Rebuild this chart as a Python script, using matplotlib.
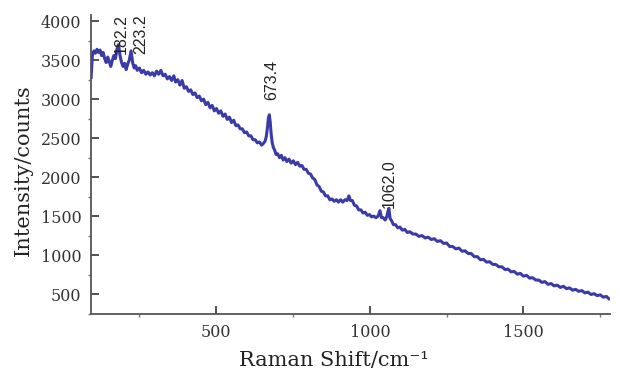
import matplotlib
matplotlib.use("Agg")
import matplotlib.pyplot as plt
from matplotlib.ticker import MultipleLocator

# Raman spectrum
shift = [93, 97, 102, 107, 112, 117, 122, 127, 132, 137, 142, 147, 152, 157, 162,
         167, 172, 177, 182, 187, 192, 197, 202, 207, 212, 217, 223, 228, 233, 238,
         243, 250, 257, 264, 271, 278, 285, 292, 299, 306, 313, 320, 327, 334, 341,
         348, 355, 362, 368, 375, 382, 389, 396, 403, 410, 417, 424, 431, 438, 445,
         452, 459, 466, 473, 480, 487, 494, 501, 508, 515, 522, 529, 536, 543, 550,
         557, 564, 571, 578, 585, 592, 599, 606, 613, 620, 627, 634, 641, 648, 654,
         659, 663, 667, 670, 673, 676, 679, 682, 686, 690, 695, 700, 706, 712, 718,
         724, 730, 737, 744, 751, 758, 765, 772, 779, 786, 793, 800, 807, 814, 821,
         828, 835, 842, 849, 856, 863, 870, 877, 884, 891, 898, 905, 912, 919, 926,
         932, 937, 943, 950, 957, 964, 971, 978, 985, 992, 999, 1006, 1013, 1020, 1027,
         1033, 1038, 1044, 1050, 1055, 1059, 1062, 1066, 1071, 1077, 1084, 1091, 1098, 1106, 1114,
         1122, 1130, 1140, 1150, 1160, 1170, 1180, 1190, 1200, 1210, 1220, 1230, 1240, 1250, 1260,
         1270, 1280, 1290, 1300, 1310, 1320, 1330, 1340, 1350, 1360, 1370, 1380, 1390, 1400, 1410,
         1420, 1430, 1440, 1450, 1460, 1470, 1480, 1490, 1500, 1510, 1520, 1530, 1540, 1550, 1560,
         1570, 1580, 1590, 1600, 1610, 1620, 1630, 1640, 1650, 1660, 1670, 1680, 1690, 1700, 1710,
         1720, 1730, 1740, 1750, 1760, 1770, 1778]
intensity = [3280, 3560, 3620, 3590, 3640, 3600, 3630, 3560, 3600, 3520, 3470, 3540, 3480, 3420, 3500,
             3560, 3520, 3640, 3700, 3560, 3470, 3420, 3460, 3380, 3450, 3500, 3620, 3470, 3400, 3430,
             3370, 3400, 3340, 3370, 3320, 3350, 3310, 3340, 3300, 3360, 3320, 3370, 3300, 3320, 3260,
             3290, 3240, 3300, 3220, 3250, 3180, 3240, 3140, 3160, 3100, 3120, 3060, 3080, 3020, 3040,
             2980, 3000, 2930, 2960, 2890, 2920, 2850, 2880, 2820, 2850, 2780, 2810, 2740, 2770, 2700,
             2730, 2660, 2670, 2620, 2620, 2570, 2580, 2530, 2530, 2480, 2480, 2440, 2450, 2410, 2435,
             2460, 2520, 2640, 2760, 2800, 2700, 2550, 2450, 2380, 2350, 2290, 2300, 2250, 2280, 2220,
             2250, 2200, 2230, 2180, 2210, 2160, 2190, 2140, 2150, 2100, 2100, 2050, 2040, 1990, 1970,
             1900, 1880, 1820, 1810, 1760, 1760, 1710, 1720, 1690, 1710, 1680, 1710, 1680, 1710, 1700,
             1760, 1700, 1700, 1640, 1630, 1580, 1580, 1540, 1550, 1510, 1520, 1490, 1500, 1480, 1500,
             1570, 1480, 1480, 1450, 1490, 1560, 1600, 1470, 1440, 1390, 1390, 1350, 1360, 1320, 1330,
             1290, 1300, 1270, 1270, 1240, 1250, 1220, 1230, 1200, 1210, 1175, 1185, 1150, 1155, 1110,
             1110, 1080, 1090, 1050, 1055, 1020, 1020, 980, 980, 940, 945, 910, 915, 880, 880,
             850, 850, 815, 820, 785, 790, 755, 765, 730, 740, 705, 710, 680, 680, 650,
             660, 625, 635, 605, 615, 585, 600, 570, 580, 550, 560, 535, 545, 515, 525,
             495, 505, 480, 490, 460, 470, 440]

peaks = [182.2, 223.2, 673.4, 1062.0]
peak_labels = ["182.2", "223.2", "673.4", "1062.0"]
label_y = [3580, 3580, 2990, 1600]

fig = plt.figure(figsize=(6.2, 3.75), dpi=100, facecolor="white")
ax = fig.add_axes([0.147, 0.163, 0.837, 0.797])

ax.plot(shift, intensity, color="#3b3ba8", lw=2.2)

# labels are drawn a little to the right of the peaks, like in the original
dx = [8, 32, 6, 1]
for p, lab, ly, d in zip(peaks, peak_labels, label_y, dx):
    ax.text(p + d, ly, lab, rotation=90, ha="center", va="bottom",
            fontsize=11.5, family="Liberation Sans", color="#222222")

ax.set_xlim(93, 1782)
ax.set_ylim(246, 4080)
ax.xaxis.set_major_locator(MultipleLocator(500))
ax.xaxis.set_minor_locator(MultipleLocator(250))
ax.yaxis.set_major_locator(MultipleLocator(500))
ax.yaxis.set_minor_locator(MultipleLocator(250))

for s in ["top", "right"]:
    ax.spines[s].set_visible(False)
for s in ["left", "bottom"]:
    ax.spines[s].set_color("#555555")
    ax.spines[s].set_linewidth(1.3)

ax.tick_params(which="major", direction="in", length=6, width=1.3, color="#444444",
               labelsize=11.5, labelcolor="#333333", pad=7)
ax.tick_params(which="minor", direction="out", length=2, width=1.0, color="#777777")
for t in ax.get_xticklabels() + ax.get_yticklabels():
    t.set_family("DejaVu Serif")

ax.set_xlabel("Raman Shift/cm\u207b\u00b9", family="DejaVu Serif",
              fontsize=15, color="#222222")
ax.set_ylabel("Intensity/counts", family="DejaVu Serif", fontsize=15,
              color="#222222")
ax.xaxis.set_label_coords(0.468, -0.125)
ax.yaxis.set_label_coords(-0.112, 0.48)

fig.savefig("out.png", dpi=100, facecolor="white")
